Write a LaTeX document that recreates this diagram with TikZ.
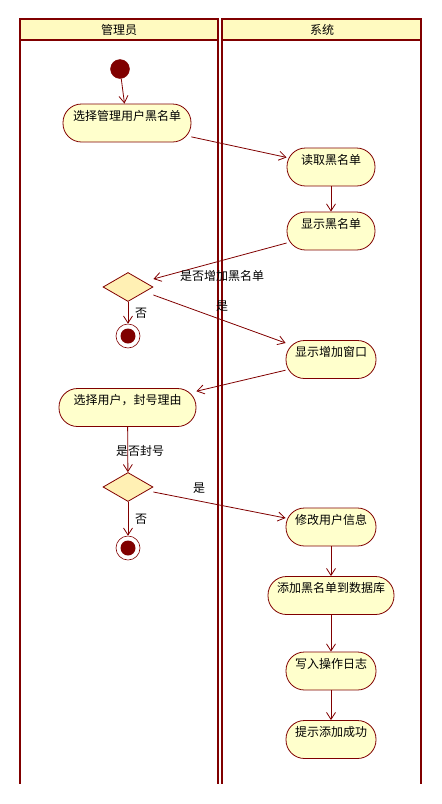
\documentclass[tikz,border=0pt]{standalone}
\usepackage{fontspec}
\setmainfont{Noto Sans CJK SC}
\usetikzlibrary{arrows.meta,shapes.geometric}
\definecolor{umlline}{HTML}{800000}
\definecolor{actfill}{HTML}{FFFFCC}
\definecolor{headfill}{HTML}{FFFAC0}
\definecolor{decfill}{HTML}{FFF0B4}
\tikzset{
  lane/.style={draw=umlline, line width=2pt},
  laneheader/.style={draw=umlline, line width=2pt, fill=headfill},
  act/.style={draw=umlline, fill=actfill, line width=0.8pt, rounded corners=18.5pt,
    inner sep=0pt, text height=16pt, text depth=22pt, align=center},
  decision/.style={diamond, draw=umlline, fill=decfill, line width=0.8pt,
    inner sep=0pt, minimum width=50pt, minimum height=29pt},
  initnode/.style={circle, fill=umlline, draw=umlline, inner sep=0pt, minimum size=19pt},
  finalnode/.style={circle, draw=umlline, fill=white, line width=0.6pt, inner sep=0pt, minimum size=24pt},
  finaldot/.style={circle, fill=umlline, inner sep=0pt, minimum size=15pt},
  flow/.style={draw=umlline, line width=0.8pt, -{Straight Barb[length=7pt,width=9pt]}},
  lbl/.style={inner sep=0pt},
}
\begin{document}
\begin{tikzpicture}[x=1pt,y=-1pt,font=\fontsize{12}{14}\selectfont]
\useasboundingbox (0,0) rectangle (442,804);

% swimlanes
\draw[lane] (20,40) -- (20,784);
\draw[lane] (218,40) -- (218,784);
\draw[lane] (222,40) -- (222,784);
\draw[lane] (421,40) -- (421,784);
\draw[laneheader] (20,19) rectangle (218,40);
\draw[laneheader] (222,19) rectangle (421,40);
\node[lbl] (h1) at (119,30) {管理员};
\node[lbl] (h2) at (322,30) {系统};

% nodes
\node[initnode] (start) at (120,69) {};
\node[act, minimum width=128pt] (a1) at (127,123) {选择管理用户黑名单};
\node[act, minimum width=88pt] (a2) at (331,167) {读取黑名单};
\node[act, minimum width=88pt] (a3) at (331,231) {显示黑名单};
\node[decision] (d1) at (128,287) {};
\node[finalnode] (f1) at (128,336) {};
\node[finaldot] at (f1) {};
\node[act, minimum width=90pt] (a4) at (331,359.5) {显示增加窗口};
\node[act, minimum width=137pt] (a5) at (127.5,407.5) {选择用户，封号理由};
\node[decision] (d2) at (128,487) {};
\node[finalnode] (f2) at (128,548) {};
\node[finaldot] at (f2) {};
\node[act, minimum width=90pt] (a6) at (331,527) {修改用户信息};
\node[act, minimum width=126pt] (a7) at (331,595.5) {添加黑名单到数据库};
\node[act, minimum width=90pt] (a8) at (331,671) {写入操作日志};
\node[act, minimum width=90pt] (a9) at (331,739.5) {提示添加成功};

% flows
\draw[flow] (start) -- (a1);
\draw[flow] (a1) -- (a2);
\draw[flow] (a2) -- (a3);
\draw[flow] (a3) -- ([yshift=8pt]d1.east);
\draw[flow] (d1) -- (f1);
\draw[flow] ([yshift=-8pt]d1.east) -- (a4);
\draw[flow] (a4) -- (a5);
\draw[flow] (a5) -- (d2);
\draw[flow] (d2) -- (f2);
\draw[flow] ([yshift=-5pt]d2.east) -- (a6);
\draw[flow] (a6) -- (a7);
\draw[flow] (a7) -- (a8);
\draw[flow] (a8) -- (a9);

% guard labels
\node[lbl] (g1) at (222,276) {是否增加黑名单};
\node[lbl] (g2) at (141,313) {否};
\node[lbl] (g3) at (222,306) {是};
\node[lbl] (g4) at (140,451) {是否封号};
\node[lbl] (g5) at (141,519) {否};
\node[lbl] (g6) at (199,488) {是};
\end{tikzpicture}
\end{document}
